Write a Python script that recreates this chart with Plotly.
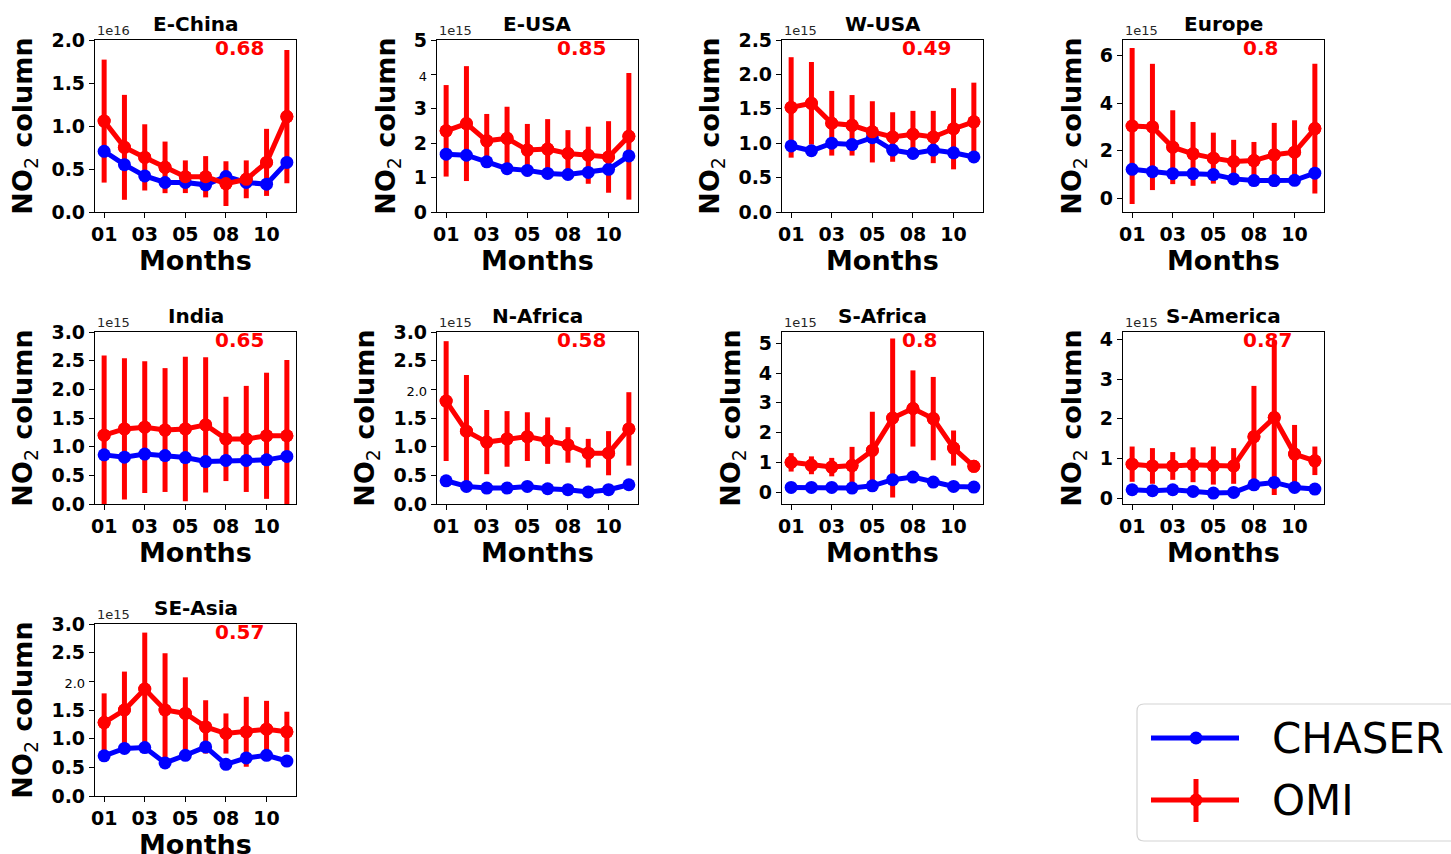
import plotly.graph_objects as go

# Monthly mean tropospheric NO2 columns (units of 1e15 molecules/cm2)
months = ["01", "02", "03", "04", "05", "06", "08", "09", "10", "11"]
month_ticks = ["01", "03", "05", "08", "10"]

regions = ["E-China", "E-USA", "W-USA", "Europe", "India",
           "N-Africa", "S-Africa", "S-America", "SE-Asia"]

chaser_e_china = [7.06, 5.50, 4.20, 3.43, 3.43, 3.16, 4.13, 3.43, 3.24, 5.77]
omi_e_china = [10.57, 7.52, 6.35, 5.19, 4.10, 4.10, 3.30, 3.80, 5.77, 11.10]
omi_sd_e_china = [7.15, 6.10, 3.85, 3.00, 1.90, 2.40, 2.60, 2.20, 3.90, 7.75]

chaser_e_usa = [1.68, 1.65, 1.46, 1.26, 1.21, 1.12, 1.09, 1.15, 1.24, 1.63]
omi_e_usa = [2.36, 2.57, 2.07, 2.14, 1.80, 1.83, 1.70, 1.65, 1.60, 2.20]
omi_sd_e_usa = [1.33, 1.67, 0.78, 0.92, 0.76, 0.87, 0.68, 0.83, 1.04, 1.84]

chaser_w_usa = [0.96, 0.89, 1.00, 0.98, 1.08, 0.90, 0.85, 0.90, 0.86, 0.80]
omi_w_usa = [1.52, 1.58, 1.29, 1.26, 1.165, 1.09, 1.13, 1.09, 1.21, 1.31]
omi_sd_w_usa = [0.73, 0.60, 0.47, 0.44, 0.445, 0.36, 0.34, 0.38, 0.59, 0.57]

chaser_europe = [1.22, 1.12, 1.04, 1.04, 1.00, 0.82, 0.75, 0.75, 0.76, 1.06]
omi_europe = [3.04, 3.00, 2.15, 1.87, 1.69, 1.55, 1.59, 1.83, 1.94, 2.93]
omi_sd_europe = [3.27, 2.65, 1.55, 1.34, 1.07, 0.91, 0.78, 1.34, 1.34, 2.72]

chaser_india = [0.857, 0.817, 0.87, 0.845, 0.81, 0.74, 0.76, 0.76, 0.77, 0.83]
omi_india = [1.20, 1.31, 1.34, 1.29, 1.31, 1.38, 1.135, 1.135, 1.19, 1.19]
omi_sd_india = [1.39, 1.23, 1.15, 1.08, 1.26, 1.18, 0.735, 0.925, 1.10, 1.32]

chaser_n_africa = [0.405, 0.307, 0.278, 0.278, 0.307, 0.266, 0.25, 0.21, 0.25, 0.336]
omi_n_africa = [1.795, 1.27, 1.08, 1.135, 1.175, 1.105, 1.03, 0.886, 0.886, 1.31]
omi_sd_n_africa = [1.045, 0.98, 0.56, 0.485, 0.425, 0.405, 0.31, 0.25, 0.385, 0.64]

chaser_s_africa = [0.157, 0.157, 0.157, 0.135, 0.21, 0.416, 0.506, 0.337, 0.19, 0.17]
omi_s_africa = [1.00, 0.90, 0.84, 0.89, 1.40, 2.49, 2.81, 2.47, 1.48, 0.865]
omi_sd_s_africa = [0.31, 0.30, 0.31, 0.63, 1.30, 2.67, 1.28, 1.40, 0.59, 0.08]

chaser_s_america = [0.21, 0.185, 0.21, 0.168, 0.126, 0.143, 0.335, 0.394, 0.268, 0.226]
omi_s_america = [0.855, 0.81, 0.81, 0.84, 0.82, 0.81, 1.55, 2.03, 1.11, 0.94]
omi_sd_s_america = [0.445, 0.45, 0.35, 0.44, 0.48, 0.45, 1.28, 1.95, 0.735, 0.36]

chaser_se_asia = [0.70, 0.83, 0.845, 0.577, 0.71, 0.856, 0.553, 0.664, 0.71, 0.61]
omi_se_asia = [1.28, 1.50, 1.865, 1.50, 1.44, 1.205, 1.09, 1.12, 1.165, 1.12]
omi_sd_se_asia = [0.51, 0.67, 0.985, 0.99, 0.63, 0.465, 0.35, 0.61, 0.495, 0.35]

# Correlation coefficient CHASER vs OMI per region
r_values = [0.68, 0.85, 0.49, 0.8, 0.65, 0.58, 0.8, 0.87, 0.57]

# Axis offset exponent, y limits and y ticks (in offset units)
offset_exp = [16, 15, 15, 15, 15, 15, 15, 15, 15]
y_limits = [(0, 2.0), (0, 5), (0, 2.5), (-0.57, 6.65), (0, 3.0),
            (0, 3.0), (-0.40, 5.38), (-0.15, 4.19), (0, 3.0)]
y_ticks = [[0, 0.5, 1.0, 1.5, 2.0], [0, 1, 2, 3, 4, 5],
           [0, 0.5, 1.0, 1.5, 2.0, 2.5], [0, 2, 4, 6],
           [0, 0.5, 1.0, 1.5, 2.0, 2.5, 3.0], [0, 0.5, 1.0, 1.5, 2.0, 2.5, 3.0],
           [0, 1, 2, 3, 4, 5], [0, 1, 2, 3, 4],
           [0, 0.5, 1.0, 1.5, 2.0, 2.5, 3.0]]
y_tick_decimals = [1, 0, 1, 0, 1, 1, 0, 0, 1]
plain_tick = [None, 4, None, None, None, 2.0, None, None, 2.0]

chaser = [chaser_e_china, chaser_e_usa, chaser_w_usa, chaser_europe, chaser_india,
          chaser_n_africa, chaser_s_africa, chaser_s_america, chaser_se_asia]
omi = [omi_e_china, omi_e_usa, omi_w_usa, omi_europe, omi_india,
       omi_n_africa, omi_s_africa, omi_s_america, omi_se_asia]
omi_sd = [omi_sd_e_china, omi_sd_e_usa, omi_sd_w_usa, omi_sd_europe, omi_sd_india,
          omi_sd_n_africa, omi_sd_s_africa, omi_sd_s_america, omi_sd_se_asia]

W, H = 1451, 854
FONT = "DejaVu Sans"
col_left = [95, 437, 782, 1123]
row_top = [40, 332, 624]
pane_w, pane_h = 201, 172


def fx(px):
    return px / W


def fy(py):
    return 1 - py / H


fig = go.Figure()
annotations = []
shapes = []

for i, name in enumerate(regions):
    row, col = divmod(i, 4)
    n = i + 1
    xa = "x" if n == 1 else f"x{n}"
    ya = "y" if n == 1 else f"y{n}"
    scale = 10 ** (offset_exp[i] - 15)
    c_vals = [v / scale for v in chaser[i]]
    o_vals = [v / scale for v in omi[i]]
    o_err = [v / scale for v in omi_sd[i]]

    # error bars first, then model line, then observation line on top
    fig.add_trace(go.Scatter(
        x=months, y=o_vals, mode="markers", xaxis=xa, yaxis=ya,
        marker=dict(size=13, color="#ff0000"),
        error_y=dict(type="data", array=o_err, symmetric=True,
                     color="#ff0000", thickness=5, width=0),
        showlegend=False, hoverinfo="skip"))
    fig.add_trace(go.Scatter(
        x=months, y=c_vals, mode="lines+markers", xaxis=xa, yaxis=ya,
        line=dict(color="#0000ff", width=5),
        marker=dict(size=13, color="#0000ff"),
        name="CHASER", showlegend=False))
    fig.add_trace(go.Scatter(
        x=months, y=o_vals, mode="lines+markers", xaxis=xa, yaxis=ya,
        line=dict(color="#ff0000", width=5),
        marker=dict(size=13, color="#ff0000"),
        name="OMI", showlegend=False))

    x0 = col_left[col]
    y0 = row_top[row]
    xdom = [fx(x0), fx(x0 + pane_w)]
    ydom = [fy(y0 + pane_h), fy(y0)]

    ticktext = []
    for t in y_ticks[i]:
        label = f"{t:.{y_tick_decimals[i]}f}"
        if plain_tick[i] is not None and abs(t - plain_tick[i]) < 1e-9:
            label = f'<span style="font-weight:normal;font-size:13px">{label}</span>'
        ticktext.append(label)

    axis_common = dict(
        showline=True, linecolor="black", linewidth=1.2, mirror=True,
        ticks="outside", ticklen=5, tickwidth=1.2, tickcolor="black",
        showgrid=False, zeroline=False, automargin=False,
        tickfont=dict(family=FONT, size=19, color="black", weight="bold"),
    )
    fig.layout[xa.replace("x", "xaxis")] = dict(
        axis_common, domain=xdom, anchor=ya, type="category",
        categoryorder="array", categoryarray=months,
        range=[-0.45, len(months) - 1 + 0.45],
        tickmode="array", tickvals=month_ticks, ticktext=month_ticks,
    )
    fig.layout[ya.replace("y", "yaxis")] = dict(
        axis_common, domain=ydom, anchor=xa,
        range=list(y_limits[i]), tickmode="array",
        tickvals=y_ticks[i], ticktext=ticktext,
        title=dict(text='NO<sub><span style="font-weight:normal">2</span></sub> column',
                   standoff=10,
                   font=dict(family=FONT, size=27, color="black", weight="bold")),
    )

    xref = f"{xa} domain"
    yref = f"{ya} domain"
    annotations.append(dict(
        text="Months", xref=xref, yref=yref, x=0.5, y=0, xanchor="center",
        yanchor="middle", yshift=-48, showarrow=False,
        font=dict(family=FONT, size=27, color="black", weight="bold")))
    annotations.append(dict(
        text=name, xref=xref, yref=yref, x=0.5, y=1, xanchor="center",
        yanchor="bottom", yshift=2, showarrow=False,
        font=dict(family=FONT, size=20, color="black", weight="bold")))
    annotations.append(dict(
        text=f"1e{offset_exp[i]}", xref=xref, yref=yref, x=0, y=1,
        xanchor="left", yanchor="bottom", yshift=0, showarrow=False,
        font=dict(family=FONT, size=13, color="#262626")))
    annotations.append(dict(
        text=str(r_values[i]), xref=xref, yref=yref, x=0.6, y=0.9,
        xanchor="left", yanchor="bottom", yshift=-5, xshift=-3, showarrow=False,
        font=dict(family=FONT, size=20, color="#ff0000", weight="bold")))

# Legend box with line/marker samples
lx0, lx1, ly0, ly1, rad = 1137, 1462, 704, 841, 7
box = (f"M {fx(lx0 + rad)},{fy(ly0)} L {fx(lx1 - rad)},{fy(ly0)} "
       f"Q {fx(lx1)},{fy(ly0)} {fx(lx1)},{fy(ly0 + rad)} L {fx(lx1)},{fy(ly1 - rad)} "
       f"Q {fx(lx1)},{fy(ly1)} {fx(lx1 - rad)},{fy(ly1)} L {fx(lx0 + rad)},{fy(ly1)} "
       f"Q {fx(lx0)},{fy(ly1)} {fx(lx0)},{fy(ly1 - rad)} L {fx(lx0)},{fy(ly0 + rad)} "
       f"Q {fx(lx0)},{fy(ly0)} {fx(lx0 + rad)},{fy(ly0)} Z")
shapes.append(dict(type="path", path=box, xref="paper", yref="paper",
                   line=dict(color="#d4d4d4", width=1.2), fillcolor="white"))

legend_items = [("CHASER", "#0000ff", 738, False), ("OMI", "#ff0000", 800, True)]
for label, color, yc, with_bar in legend_items:
    shapes.append(dict(type="line", xref="paper", yref="paper",
                       x0=fx(1151), x1=fx(1239), y0=fy(yc), y1=fy(yc),
                       line=dict(color=color, width=5)))
    if with_bar:
        shapes.append(dict(type="line", xref="paper", yref="paper",
                           x0=fx(1196), x1=fx(1196), y0=fy(yc - 21), y1=fy(yc + 22),
                           line=dict(color=color, width=5)))
    shapes.append(dict(type="circle", xref="paper", yref="paper",
                       x0=fx(1196 - 6.5), x1=fx(1196 + 6.5),
                       y0=fy(yc - 6.5), y1=fy(yc + 6.5),
                       line=dict(color=color, width=0), fillcolor=color))
    annotations.append(dict(
        text=label, xref="paper", yref="paper", x=fx(1270), y=fy(yc),
        xanchor="left", yanchor="middle", showarrow=False,
        font=dict(family=FONT, size=42, color="black")))

fig.update_layout(
    width=W, height=H, margin=dict(l=0, r=0, t=0, b=0, autoexpand=False),
    paper_bgcolor="white", plot_bgcolor="white",
    font=dict(family=FONT, color="black"),
    annotations=annotations, shapes=shapes, showlegend=False,
)

fig.write_html("out.html")
